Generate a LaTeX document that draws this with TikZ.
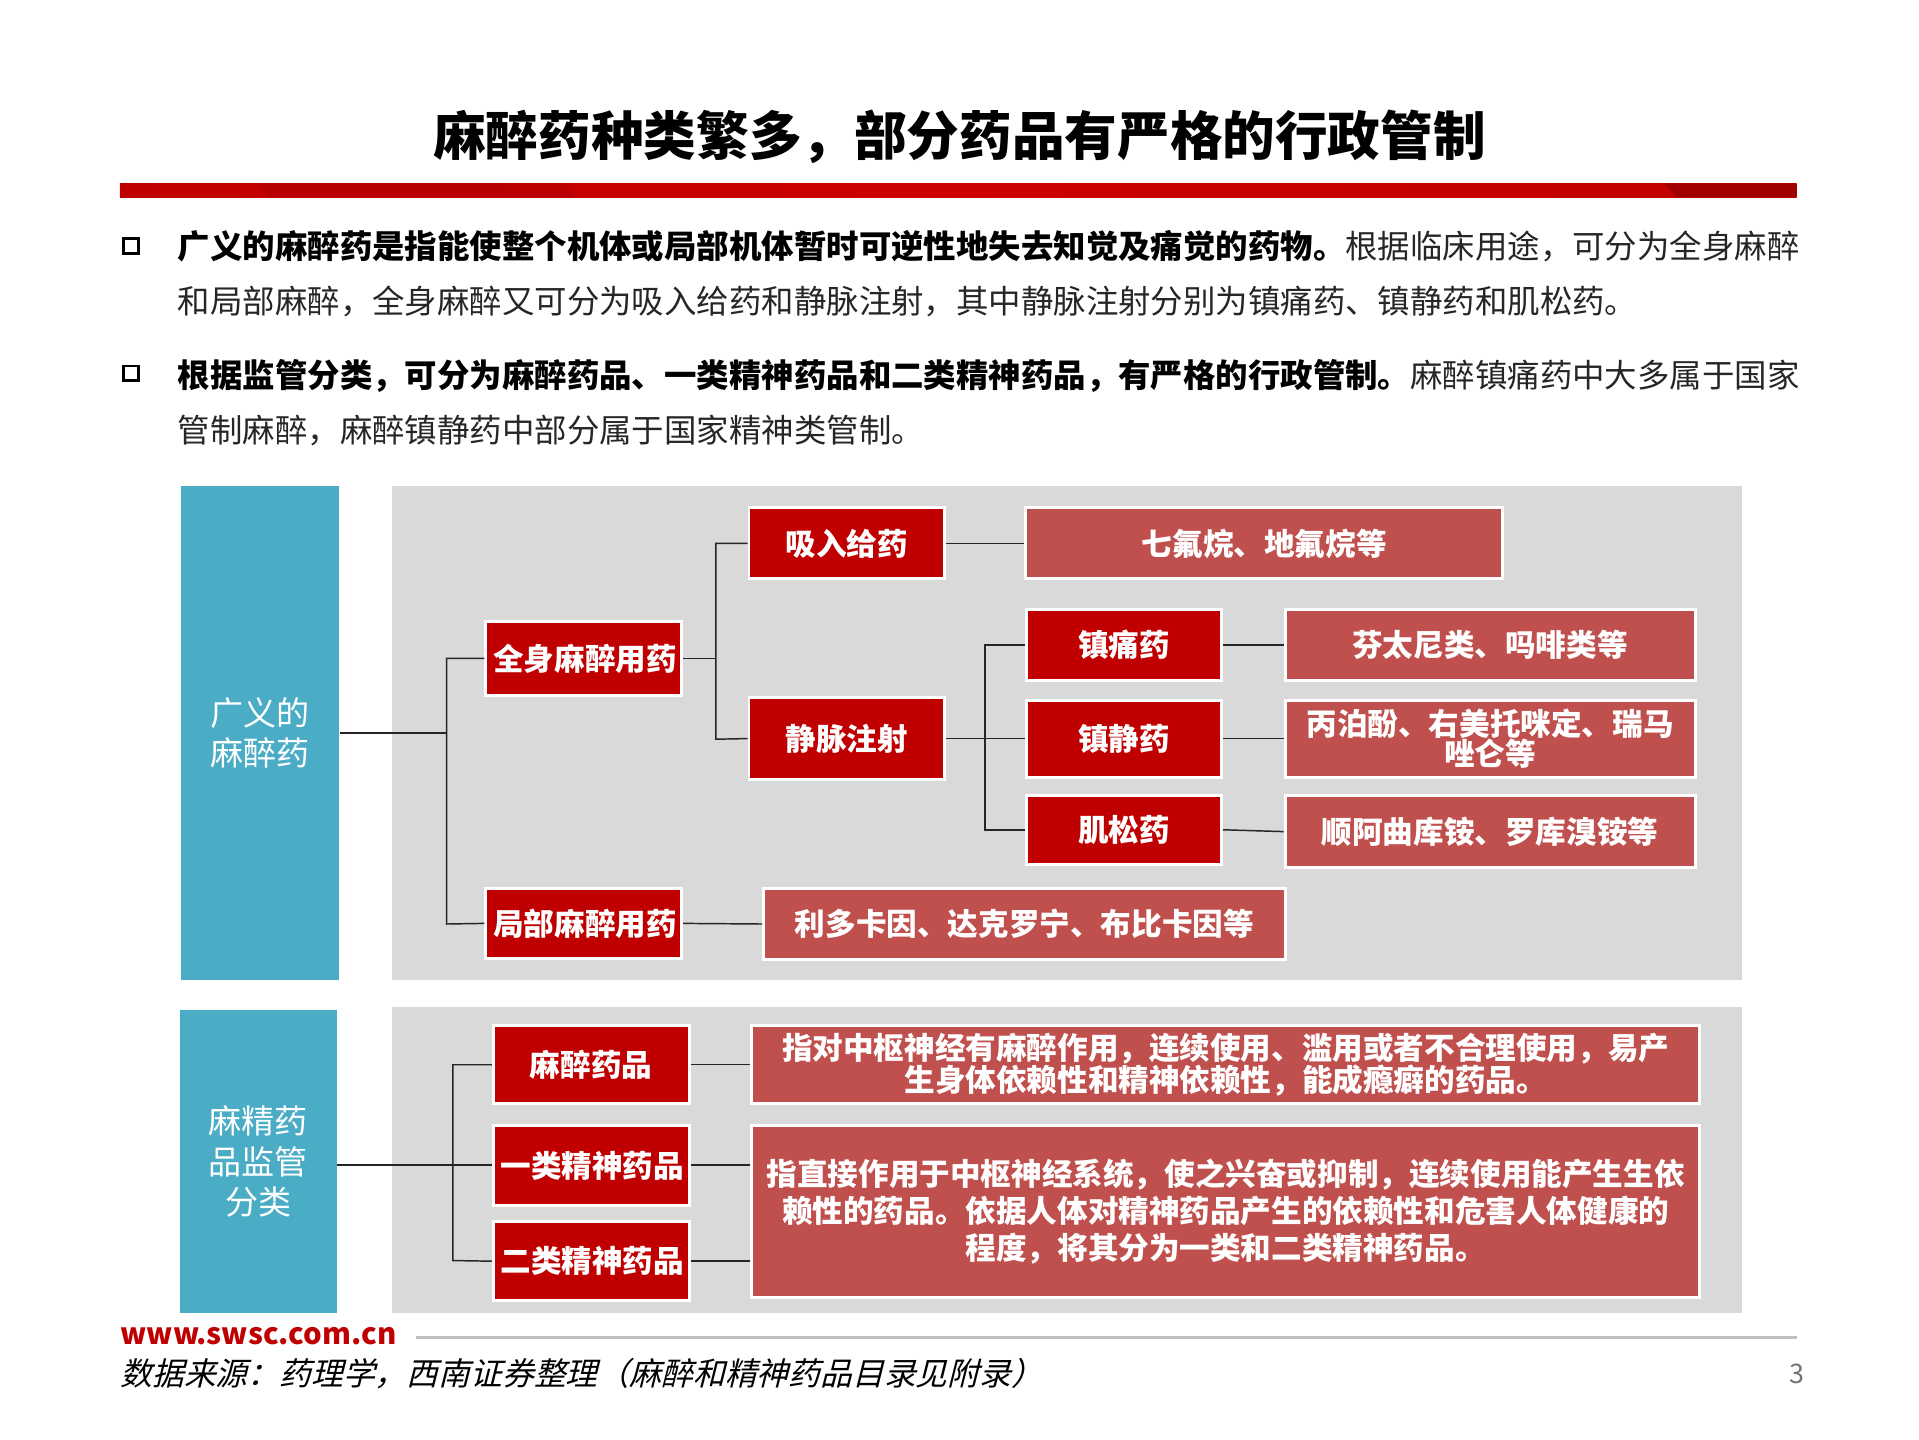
\documentclass[tikz,border=0pt]{standalone}
\usepackage{fontspec}
\setmainfont{Noto Sans CJK SC}
\newfontfamily\slantcjk[FakeSlant=0.25]{Noto Sans CJK SC}
\definecolor{teal}{HTML}{4BACC6}
\definecolor{graybg}{HTML}{D9D9D9}
\definecolor{dred}{HTML}{C00000}
\definecolor{lred}{HTML}{C0504D}
\definecolor{txt}{HTML}{262626}
\begin{document}
\begin{tikzpicture}[x=0.5pt,y=-0.5pt,
 dbox/.style={draw=white,line width=1.2pt,fill=dred,text=white,font=\fontsize{12.5}{14}\selectfont\bfseries,inner sep=0pt,align=center},
 lbox/.style={draw=white,line width=1.2pt,fill=lred,text=white,font=\fontsize{12.5}{15}\selectfont\bfseries,inner sep=2pt,align=center},
 con/.style={draw=black!85,line width=0.6pt}]
\useasboundingbox (0,0) rectangle (1568,1176);
\node[font=\fontsize{21.5}{24}\selectfont\bfseries] (title) at (784,112) {麻醉药种类繁多，部分药品有严格的行政管制};
\shade[left color=dred,right color=dred,middle color=red!80!black] (98,150) rectangle (1468,161);
\fill[red!70!black,opacity=0.6] (210,150) -- (460,150) -- (470,161) -- (220,161) -- cycle;
\fill[red!50!black,opacity=0.5] (1360,150) -- (1468,150) -- (1468,161) -- (1370,161) -- cycle;
% bullets
\node[draw,line width=1pt,minimum size=6pt,inner sep=0pt] (b1) at (107,201) {};
\node[draw,line width=1pt,minimum size=6pt,inner sep=0pt] (b2) at (107,305) {};
\node[anchor=north west,align=left,text=txt,font=\fontsize{13.25}{22.5}\selectfont,inner sep=0pt] (p1) at (145,188)
 {\textbf{\color{black}广义的麻醉药是指能使整个机体或局部机体暂时可逆性地失去知觉及痛觉的药物。}根据临床用途，可分为全身麻醉\\和局部麻醉，全身麻醉又可分为吸入给药和静脉注射，其中静脉注射分别为镇痛药、镇静药和肌松药。};
\node[anchor=north west,align=left,text=txt,font=\fontsize{13.25}{22.5}\selectfont,inner sep=0pt] (p2) at (145,293)
 {\textbf{\color{black}根据监管分类，可分为麻醉药品、一类精神药品和二类精神药品，有严格的行政管制。}麻醉镇痛药中大多属于国家\\管制麻醉，麻醉镇静药中部分属于国家精神类管制。};
% backgrounds
\fill[graybg] (320,397) rectangle (1423,801);
\fill[graybg] (320,823) rectangle (1423,1073);
\node[fill=teal,minimum width=64.5pt,minimum height=202pt,inner sep=0pt,text=white,font=\fontsize{13.5}{16.5}\selectfont,align=center] (t1) at (212.5,599) {广义的\\麻醉药};
\node[fill=teal,minimum width=64pt,minimum height=124pt,inner sep=0pt,text=white,font=\fontsize{13.5}{16.5}\selectfont,align=center] (t2) at (211,949) {麻精药\\品监管\\分类};
% boxes
\newcommand\bx[6]{\node[#1,minimum width={(#4-#2)*0.5pt},minimum height={(#5-#3)*0.5pt},text width={(#4-#2)*0.5pt-6pt}] (#6) at ({(#2+#4)/2},{(#3+#5)/2})}
\bx{dbox}{612}{415}{772}{473}{xr} {吸入给药};
\bx{lbox}{838}{415}{1228}{473}{xr2} {七氟烷、地氟烷等};
\bx{dbox}{397}{508}{557}{568}{qs} {全身麻醉用药};
\bx{dbox}{612}{570}{772}{637}{jm} {静脉注射};
\bx{dbox}{839}{498}{998}{556}{zt} {镇痛药};
\bx{dbox}{839}{572}{998}{635}{zj} {镇静药};
\bx{dbox}{839}{650}{998}{706}{js} {肌松药};
\bx{lbox}{1050}{498}{1385}{556}{zt2} {芬太尼类、吗啡类等};
\bx{lbox}{1050}{572}{1385}{635}{zj2} {丙泊酚、右美托咪定、瑞马\\[-3pt]唑仑等};
\bx{lbox}{1050}{650}{1385}{709}{js2} {顺阿曲库铵、罗库溴铵等};
\bx{dbox}{397}{726}{557}{783}{jb} {局部麻醉用药};
\bx{lbox}{624}{726}{1050}{784}{jb2} {利多卡因、达克罗宁、布比卡因等};
\bx{dbox}{403}{838}{563}{902}{mz} {麻醉药品};
\bx{dbox}{403}{920}{563}{985}{yl} {一类精神药品};
\bx{dbox}{403}{998}{563}{1063}{el} {二类精神药品};
\bx{lbox}{614}{838}{1389}{902}{d1} {指对中枢神经有麻醉作用，连续使用、滥用或者不合理使用，易产\\[-2pt]生身体依赖性和精神依赖性，能成瘾癖的药品。};
\bx{lbox}{614}{920}{1389}{1060}{d2} {指直接作用于中枢神经系统，使之兴奋或抑制，连续使用能产生生依\\赖性的药品。依据人体对精神药品产生的依赖性和危害人体健康的\\程度，将其分为一类和二类精神药品。};
% connectors
\coordinate (b1j) at (365,599);
\coordinate (b2j) at (370,952);
\draw[con] (t1.east |- b1j) -- (b1j);
\draw[con] (qs.west) -| (365,755) -- (jb.west);
\draw[con] (qs.east) -- (585,538);
\draw[con] (xr.west) -| (585,604) -- (jm.west);
\draw[con] (xr.east) -- (xr2.west);
\draw[con] (jm.east) -- (zj.west);
\draw[con] (zt.west) -| (805,678) -- (js.west);
\draw[con] (zt.east) -- (zt2.west);
\draw[con] (zj.east) -- (zj2.west);
\draw[con] (js.east) -- (js2.west);
\draw[con] (jb.east) -- (jb2.west);
\draw[con] (t2.east |- b2j) -- (yl.west |- b2j);
\draw[con] (mz.west) -| (370,1030) -- (el.west);
\draw[con] (mz.east) -- (mz.east -| d1.west);
\draw[con] (yl.east |- b2j) -- (d2.west |- b2j);
\draw[con] (el.east) -- (el.east -| d2.west);
% footer
\node[anchor=west,text=dred,font=\fontsize{12}{14}\selectfont\bfseries,inner sep=0pt] (web) at (98,1092) {www.swsc.com.cn};
\draw[black!25,line width=1.2pt] (340,1093) -- (1468,1093);
\node[anchor=west,font=\fontsize{13}{14}\slantcjk,inner sep=0pt] (src) at (98,1122) {数据来源：药理学，西南证券整理（麻醉和精神药品目录见附录）};
\node[text=black!55,font=\fontsize{11}{13}\selectfont,inner sep=0pt] (pg) at (1468,1123) {3};
\end{tikzpicture}
\end{document}
